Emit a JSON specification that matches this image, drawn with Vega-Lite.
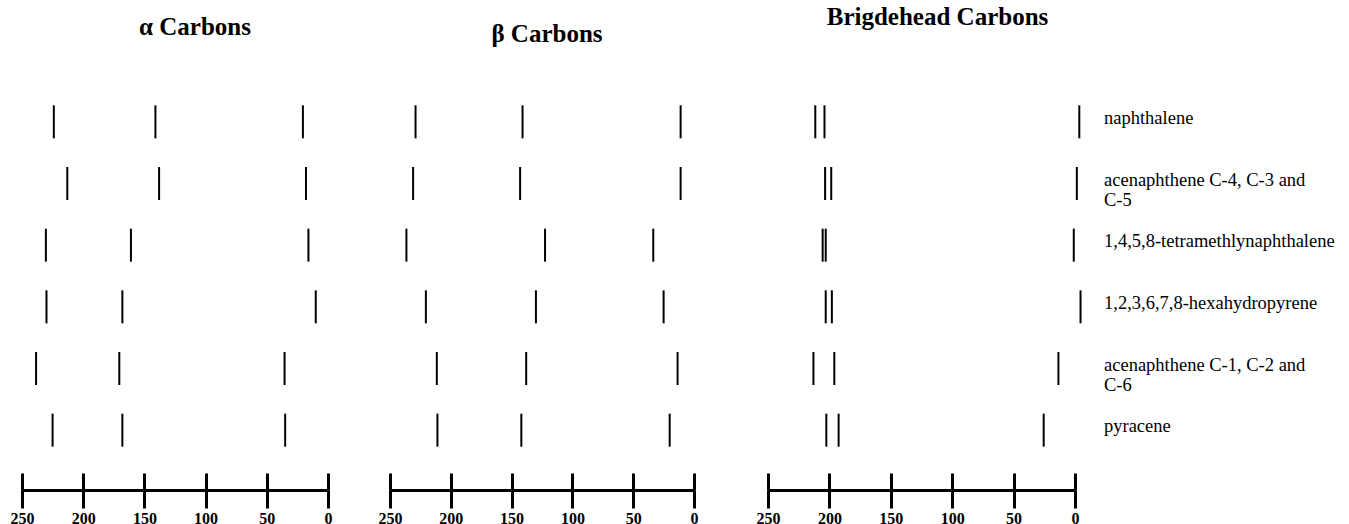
{
  "$schema": "https://vega.github.io/schema/vega-lite/v6.json",
  "padding": {"left": 10, "top": 5, "right": 2, "bottom": 0},
  "background": "white",
  "config": {
    "view": {"stroke": null},
    "font": "Liberation Serif"
  },
  "datasets": {
    "shifts": [
      {"panel": "alpha", "compound": "naphthalene", "ppm": 224},
      {"panel": "alpha", "compound": "naphthalene", "ppm": 141},
      {"panel": "alpha", "compound": "naphthalene", "ppm": 20.5},
      {"panel": "alpha", "compound": "acenaphthene C-4, C-3 and C-5", "ppm": 213},
      {"panel": "alpha", "compound": "acenaphthene C-4, C-3 and C-5", "ppm": 138},
      {"panel": "alpha", "compound": "acenaphthene C-4, C-3 and C-5", "ppm": 18},
      {"panel": "alpha", "compound": "1,4,5,8-tetramethlynaphthalene", "ppm": 230.5},
      {"panel": "alpha", "compound": "1,4,5,8-tetramethlynaphthalene", "ppm": 161},
      {"panel": "alpha", "compound": "1,4,5,8-tetramethlynaphthalene", "ppm": 16},
      {"panel": "alpha", "compound": "1,2,3,6,7,8-hexahydropyrene", "ppm": 230},
      {"panel": "alpha", "compound": "1,2,3,6,7,8-hexahydropyrene", "ppm": 168},
      {"panel": "alpha", "compound": "1,2,3,6,7,8-hexahydropyrene", "ppm": 10},
      {"panel": "alpha", "compound": "acenaphthene C-1, C-2 and C-6", "ppm": 238.5},
      {"panel": "alpha", "compound": "acenaphthene C-1, C-2 and C-6", "ppm": 170.5},
      {"panel": "alpha", "compound": "acenaphthene C-1, C-2 and C-6", "ppm": 35.5},
      {"panel": "alpha", "compound": "pyracene", "ppm": 225},
      {"panel": "alpha", "compound": "pyracene", "ppm": 168},
      {"panel": "alpha", "compound": "pyracene", "ppm": 35},
      {"panel": "beta", "compound": "naphthalene", "ppm": 229},
      {"panel": "beta", "compound": "naphthalene", "ppm": 141},
      {"panel": "beta", "compound": "naphthalene", "ppm": 11},
      {"panel": "beta", "compound": "acenaphthene C-4, C-3 and C-5", "ppm": 231},
      {"panel": "beta", "compound": "acenaphthene C-4, C-3 and C-5", "ppm": 143},
      {"panel": "beta", "compound": "acenaphthene C-4, C-3 and C-5", "ppm": 11},
      {"panel": "beta", "compound": "1,4,5,8-tetramethlynaphthalene", "ppm": 236.5},
      {"panel": "beta", "compound": "1,4,5,8-tetramethlynaphthalene", "ppm": 122.5},
      {"panel": "beta", "compound": "1,4,5,8-tetramethlynaphthalene", "ppm": 33.5},
      {"panel": "beta", "compound": "1,2,3,6,7,8-hexahydropyrene", "ppm": 220.5},
      {"panel": "beta", "compound": "1,2,3,6,7,8-hexahydropyrene", "ppm": 130},
      {"panel": "beta", "compound": "1,2,3,6,7,8-hexahydropyrene", "ppm": 25},
      {"panel": "beta", "compound": "acenaphthene C-1, C-2 and C-6", "ppm": 211.5},
      {"panel": "beta", "compound": "acenaphthene C-1, C-2 and C-6", "ppm": 138},
      {"panel": "beta", "compound": "acenaphthene C-1, C-2 and C-6", "ppm": 13.5},
      {"panel": "beta", "compound": "pyracene", "ppm": 211},
      {"panel": "beta", "compound": "pyracene", "ppm": 142},
      {"panel": "beta", "compound": "pyracene", "ppm": 20},
      {"panel": "bridge", "compound": "naphthalene", "ppm": 211.5},
      {"panel": "bridge", "compound": "naphthalene", "ppm": 204},
      {"panel": "bridge", "compound": "naphthalene", "ppm": -3.5},
      {"panel": "bridge", "compound": "acenaphthene C-4, C-3 and C-5", "ppm": 203.5},
      {"panel": "bridge", "compound": "acenaphthene C-4, C-3 and C-5", "ppm": 198.5},
      {"panel": "bridge", "compound": "acenaphthene C-4, C-3 and C-5", "ppm": -1.5},
      {"panel": "bridge", "compound": "1,4,5,8-tetramethlynaphthalene", "ppm": 205.5},
      {"panel": "bridge", "compound": "1,4,5,8-tetramethlynaphthalene", "ppm": 203},
      {"panel": "bridge", "compound": "1,4,5,8-tetramethlynaphthalene", "ppm": 1},
      {"panel": "bridge", "compound": "1,2,3,6,7,8-hexahydropyrene", "ppm": 203},
      {"panel": "bridge", "compound": "1,2,3,6,7,8-hexahydropyrene", "ppm": 198},
      {"panel": "bridge", "compound": "1,2,3,6,7,8-hexahydropyrene", "ppm": -4.5},
      {"panel": "bridge", "compound": "acenaphthene C-1, C-2 and C-6", "ppm": 213},
      {"panel": "bridge", "compound": "acenaphthene C-1, C-2 and C-6", "ppm": 196},
      {"panel": "bridge", "compound": "acenaphthene C-1, C-2 and C-6", "ppm": 13.5},
      {"panel": "bridge", "compound": "pyracene", "ppm": 202.5},
      {"panel": "bridge", "compound": "pyracene", "ppm": 192.5},
      {"panel": "bridge", "compound": "pyracene", "ppm": 25.5}
    ],
    "labels": [
      {"compound": "naphthalene", "label": ["naphthalene"]},
      {"compound": "acenaphthene C-4, C-3 and C-5", "label": ["acenaphthene C-4, C-3 and", "C-5"]},
      {"compound": "1,4,5,8-tetramethlynaphthalene", "label": ["1,4,5,8-tetramethlynaphthalene"]},
      {"compound": "1,2,3,6,7,8-hexahydropyrene", "label": ["1,2,3,6,7,8-hexahydropyrene"]},
      {"compound": "acenaphthene C-1, C-2 and C-6", "label": ["acenaphthene C-1, C-2 and", "C-6"]},
      {"compound": "pyracene", "label": ["pyracene"]}
    ]
  },
  "spacing": 58,
  "hconcat": [
    {
      "spacing": 46,
      "hconcat": [
        {
          "width": 306,
          "height": 370,
          "title": {"text": "α Carbons", "font": "Liberation Serif", "fontSize": 25, "fontWeight": "bold", "color": "black", "anchor": "middle", "frame": "group", "baseline": "alphabetic", "offset": 31, "dx": 20},
          "resolve": {"axis": {"x": "independent"}},
          "layer": [
            {
              "data": {"name": "shifts"},
              "transform": [{"filter": "datum.panel === 'alpha'"}],
              "mark": {"type": "tick", "color": "black", "thickness": 2, "size": 33, "opacity": 1},
              "encoding": {
                "x": {"field": "ppm", "type": "quantitative", "scale": {"domain": [250, 0], "nice": false, "zero": false},
                  "axis": {"orient": "bottom", "offset": 29, "values": [0, 50, 100, 150, 200, 250], "title": null, "grid": false, "domain": true, "domainColor": "black", "domainWidth": 3, "ticks": true, "tickColor": "black", "tickWidth": 3, "tickSize": 18, "labelFont": "Liberation Serif", "labelFontSize": 16, "labelFontWeight": "bold", "labelColor": "black", "labelPadding": 2, "labelFlush": false}},
                "y": {"field": "compound", "type": "nominal", "sort": ["naphthalene", "acenaphthene C-4, C-3 and C-5", "1,4,5,8-tetramethlynaphthalene", "1,2,3,6,7,8-hexahydropyrene", "acenaphthene C-1, C-2 and C-6", "pyracene"], "scale": {"paddingInner": 0, "paddingOuter": 0}, "axis": null}
              }
            },
            {
              "data": {"name": "shifts"},
              "transform": [{"filter": "datum.panel === 'alpha'"}],
              "mark": {"type": "tick", "color": "black", "opacity": 0},
              "encoding": {
                "x": {"field": "ppm", "type": "quantitative",
                  "axis": {"orient": "bottom", "offset": 29, "values": [0, 50, 100, 150, 200, 250], "title": null, "grid": false, "domain": false, "labels": false, "ticks": true, "tickColor": "black", "tickWidth": 3, "tickSize": -17}},
                "y": {"field": "compound", "type": "nominal", "sort": ["naphthalene", "acenaphthene C-4, C-3 and C-5", "1,4,5,8-tetramethlynaphthalene", "1,2,3,6,7,8-hexahydropyrene", "acenaphthene C-1, C-2 and C-6", "pyracene"], "axis": null}
              }
            }
          ]
        },
        {
          "width": 304,
          "height": 370,
          "title": {"text": "β Carbons", "font": "Liberation Serif", "fontSize": 25, "fontWeight": "bold", "color": "black", "anchor": "middle", "frame": "group", "baseline": "alphabetic", "offset": 24, "dx": 5},
          "resolve": {"axis": {"x": "independent"}},
          "layer": [
            {
              "data": {"name": "shifts"},
              "transform": [{"filter": "datum.panel === 'beta'"}],
              "mark": {"type": "tick", "color": "black", "thickness": 2, "size": 33, "opacity": 1},
              "encoding": {
                "x": {"field": "ppm", "type": "quantitative", "scale": {"domain": [250, 0], "nice": false, "zero": false},
                  "axis": {"orient": "bottom", "offset": 29, "values": [0, 50, 100, 150, 200, 250], "title": null, "grid": false, "domain": true, "domainColor": "black", "domainWidth": 3, "ticks": true, "tickColor": "black", "tickWidth": 3, "tickSize": 18, "labelFont": "Liberation Serif", "labelFontSize": 16, "labelFontWeight": "bold", "labelColor": "black", "labelPadding": 2, "labelFlush": false}},
                "y": {"field": "compound", "type": "nominal", "sort": ["naphthalene", "acenaphthene C-4, C-3 and C-5", "1,4,5,8-tetramethlynaphthalene", "1,2,3,6,7,8-hexahydropyrene", "acenaphthene C-1, C-2 and C-6", "pyracene"], "scale": {"paddingInner": 0, "paddingOuter": 0}, "axis": null}
              }
            },
            {
              "data": {"name": "shifts"},
              "transform": [{"filter": "datum.panel === 'beta'"}],
              "mark": {"type": "tick", "color": "black", "opacity": 0},
              "encoding": {
                "x": {"field": "ppm", "type": "quantitative",
                  "axis": {"orient": "bottom", "offset": 29, "values": [0, 50, 100, 150, 200, 250], "title": null, "grid": false, "domain": false, "labels": false, "ticks": true, "tickColor": "black", "tickWidth": 3, "tickSize": -17}},
                "y": {"field": "compound", "type": "nominal", "sort": ["naphthalene", "acenaphthene C-4, C-3 and C-5", "1,4,5,8-tetramethlynaphthalene", "1,2,3,6,7,8-hexahydropyrene", "acenaphthene C-1, C-2 and C-6", "pyracene"], "axis": null}
              }
            }
          ]
        }
      ]
    },
    {
      "width": 307,
      "height": 370,
      "title": {"text": "Brigdehead Carbons", "font": "Liberation Serif", "fontSize": 25, "fontWeight": "bold", "color": "black", "anchor": "middle", "frame": "group", "baseline": "alphabetic", "offset": 41, "dx": 16},
      "resolve": {"axis": {"x": "independent"}},
      "layer": [
        {
          "data": {"name": "shifts"},
          "transform": [{"filter": "datum.panel === 'bridge'"}],
          "mark": {"type": "tick", "color": "black", "thickness": 2, "size": 33, "opacity": 1},
          "encoding": {
            "x": {"field": "ppm", "type": "quantitative", "scale": {"domain": [250, 0], "nice": false, "zero": false},
              "axis": {"orient": "bottom", "offset": 29, "values": [0, 50, 100, 150, 200, 250], "title": null, "grid": false, "domain": true, "domainColor": "black", "domainWidth": 3, "ticks": true, "tickColor": "black", "tickWidth": 3, "tickSize": 18, "labelFont": "Liberation Serif", "labelFontSize": 16, "labelFontWeight": "bold", "labelColor": "black", "labelPadding": 2, "labelFlush": false}},
            "y": {"field": "compound", "type": "nominal", "sort": ["naphthalene", "acenaphthene C-4, C-3 and C-5", "1,4,5,8-tetramethlynaphthalene", "1,2,3,6,7,8-hexahydropyrene", "acenaphthene C-1, C-2 and C-6", "pyracene"], "scale": {"paddingInner": 0, "paddingOuter": 0}, "axis": null}
          }
        },
        {
          "data": {"name": "shifts"},
          "transform": [{"filter": "datum.panel === 'bridge'"}],
          "mark": {"type": "tick", "color": "black", "opacity": 0},
          "encoding": {
            "x": {"field": "ppm", "type": "quantitative",
              "axis": {"orient": "bottom", "offset": 29, "values": [0, 50, 100, 150, 200, 250], "title": null, "grid": false, "domain": false, "labels": false, "ticks": true, "tickColor": "black", "tickWidth": 3, "tickSize": -17}},
            "y": {"field": "compound", "type": "nominal", "sort": ["naphthalene", "acenaphthene C-4, C-3 and C-5", "1,4,5,8-tetramethlynaphthalene", "1,2,3,6,7,8-hexahydropyrene", "acenaphthene C-1, C-2 and C-6", "pyracene"], "axis": null}
          }
        },
        {
          "data": {"name": "labels"},
          "mark": {"type": "text", "align": "left", "baseline": "middle", "dx": 29, "dy": -4, "font": "Liberation Serif", "fontSize": 18.5, "lineHeight": 20, "color": "black"},
          "encoding": {
            "x": {"datum": 0, "type": "quantitative", "axis": null},
            "y": {"field": "compound", "type": "nominal", "sort": ["naphthalene", "acenaphthene C-4, C-3 and C-5", "1,4,5,8-tetramethlynaphthalene", "1,2,3,6,7,8-hexahydropyrene", "acenaphthene C-1, C-2 and C-6", "pyracene"], "axis": null},
            "text": {"field": "label"}
          }
        }
      ]
    }
  ]
}
